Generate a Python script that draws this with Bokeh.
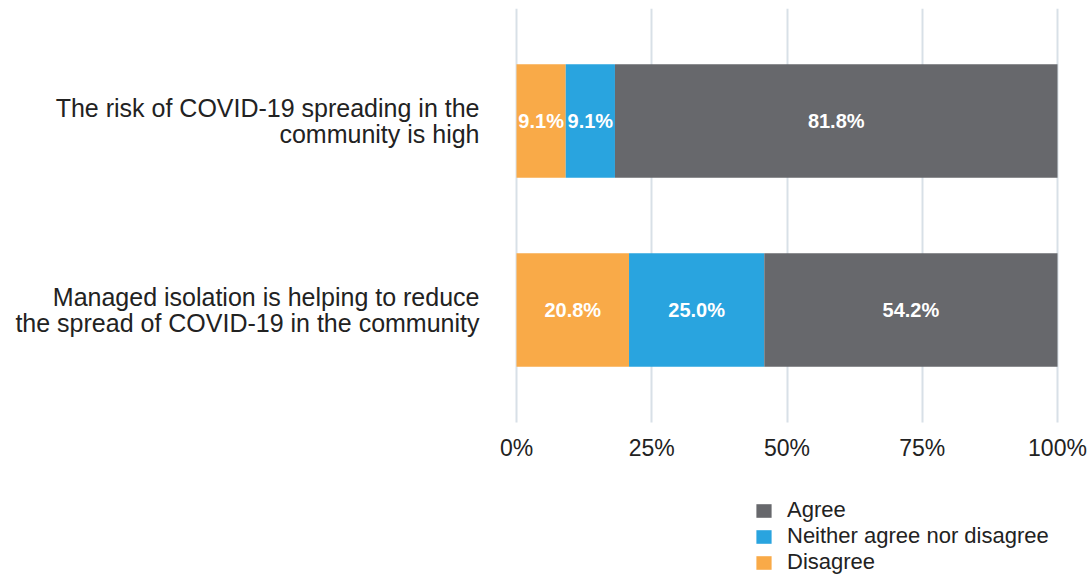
from bokeh.plotting import figure
from bokeh.models import (ColumnDataSource, Range1d, FixedTicker, Grid,
                          Legend, LegendItem)
from bokeh.embed import file_html
from bokeh.resources import INLINE
from bokeh.core.properties import value

# ---- data ----
statements = ["The risk of COVID-19 spreading in the\ncommunity is high",
              "Managed isolation is helping to reduce\nthe spread of COVID-19 in the community"]
disagree = [9.1, 20.8]
neither = [9.1, 25.0]
agree = [81.8, 54.2]
series_keys = ["disagree", "neither", "agree"]
series_names = ["Disagree", "Neither agree nor disagree", "Agree"]
colors = ["#F9AA48", "#29A4DF", "#67686C"]
tick_values = [0, 25, 50, 75, 100]
tick_labels = ["0%", "25%", "50%", "75%", "100%"]

FONT = "Liberation Sans"

# row positions (top statement highest)
rows = [len(statements) - 1 - i for i in range(len(statements))]
source = ColumnDataSource(dict(row=rows, disagree=disagree,
                               neither=neither, agree=agree))

Y_TOP, Y_BOTTOM = 1.595, -1.405      # visible vertical span (rows are 1 unit apart)
AXIS_Y = -0.595                       # where the percentage axis sits
X_START, X_END = -4.806, 105.73       # leaves room for the end tick labels

p = figure(width=1088, height=575, output_backend="svg", toolbar_location=None,
           x_range=Range1d(X_START, X_END), y_range=Range1d(Y_BOTTOM, Y_TOP),
           min_border_left=490, min_border_right=0, min_border_top=8,
           min_border_bottom=0)
p.outline_line_color = None
p.background_fill_color = "white"
p.border_fill_color = "white"

renderers = p.hbar_stack(series_keys, y="row", height=0.6, color=colors,
                         source=source, line_color=None)

# value labels
lab_x, lab_y, lab_t = [], [], []
for i, r in enumerate(rows):
    left = 0.0
    for vals in (disagree, neither, agree):
        v = vals[i]
        lab_x.append(left + v / 2)
        lab_y.append(r)
        lab_t.append(f"{v:.1f}%")
        left += v
p.text(x=lab_x, y=lab_y, text=lab_t, text_align="center", text_baseline="middle",
       text_color="white", text_font=value(FONT), text_font_style="bold",
       text_font_size="20px")

# x axis (drawn at fixed location under the bars)
p.xaxis.fixed_location = AXIS_Y
p.xaxis.ticker = FixedTicker(ticks=tick_values)
p.xaxis.major_label_overrides = {t: l for t, l in zip(tick_values, tick_labels)}
p.xaxis.axis_line_color = None
p.xaxis.major_tick_line_color = None
p.xaxis.minor_tick_line_color = None
p.xaxis.major_tick_out = 0
p.xaxis.major_tick_in = 0
p.xaxis.major_label_standoff = 13
p.xaxis.major_label_text_font = FONT
p.xaxis.major_label_text_font_size = "23px"
p.xaxis.major_label_text_color = "#222222"

# y axis with statement labels
p.yaxis.ticker = FixedTicker(ticks=rows)
p.yaxis.major_label_overrides = {r: s for r, s in zip(rows, statements)}
p.yaxis.minor_tick_line_color = None
p.yaxis.axis_line_color = None
p.yaxis.major_tick_line_color = None
p.yaxis.major_tick_out = 0
p.yaxis.major_tick_in = 0
p.yaxis.major_label_standoff = 11
p.yaxis.major_label_text_font = FONT
p.yaxis.major_label_text_font_size = "25px"
p.yaxis.major_label_text_line_height = 0.96
p.yaxis.major_label_text_color = "#222222"
p.yaxis.major_label_text_align = "right"

p.ygrid.grid_line_color = None
p.xgrid.grid_line_color = "#D8E0E7"
p.xgrid.grid_line_width = 2
if "cross_bounds" in Grid.properties():
    p.xgrid.cross_bounds = (AXIS_Y, Y_TOP)
else:
    p.xgrid.grid_line_color = None
    p.segment(x0=tick_values, x1=tick_values, y0=[AXIS_Y] * len(tick_values),
              y1=[Y_TOP] * len(tick_values), line_color="#D8E0E7", line_width=2,
              level="underlay")

# legend: Agree, Neither, Disagree (top to bottom)
order = [2, 1, 0]
legend = Legend(items=[LegendItem(label=series_names[i], renderers=[renderers[i]]) for i in order],
                location=(264, 0), padding=0, margin=0, spacing=0,
                border_line_color=None, background_fill_alpha=0,
                glyph_width=19, glyph_height=17, label_standoff=14,
                label_text_font=FONT, label_text_font_size="22px",
                label_text_color="#222222")
p.add_layout(legend, "center")

open("out.html", "w").write(file_html(p, INLINE))
